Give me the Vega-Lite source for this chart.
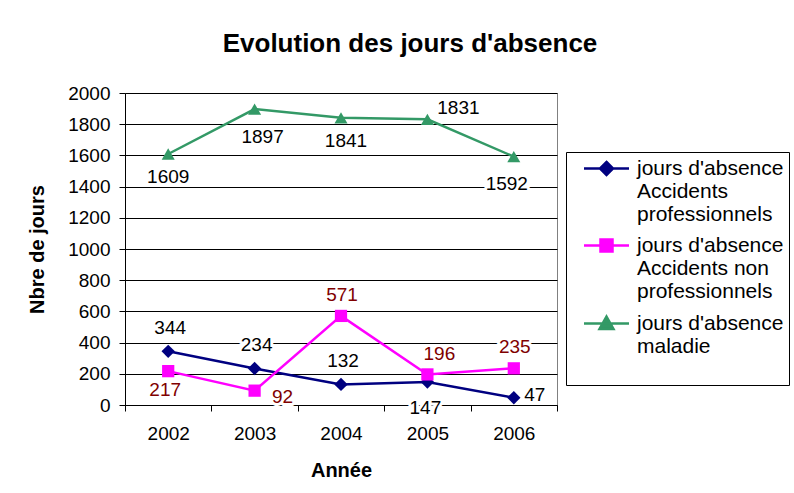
{
  "$schema": "https://vega.github.io/schema/vega-lite/v6.json",
  "autosize": "none",
  "width": 432,
  "height": 312,
  "padding": {"left": 125, "top": 93, "right": 237, "bottom": 88},
  "background": "white",
  "title": {
    "text": "Evolution des jours d'absence",
    "font": "Liberation Sans",
    "fontSize": 26,
    "fontWeight": "bold",
    "color": "black",
    "anchor": "middle",
    "frame": "group",
    "dx": 69,
    "offset": 27
  },
  "data": {
    "values": [
      {"annee": "2002", "serie": "jours d'absence Accidents professionnels", "jours": 344},
      {"annee": "2003", "serie": "jours d'absence Accidents professionnels", "jours": 234},
      {"annee": "2004", "serie": "jours d'absence Accidents professionnels", "jours": 132},
      {"annee": "2005", "serie": "jours d'absence Accidents professionnels", "jours": 147},
      {"annee": "2006", "serie": "jours d'absence Accidents professionnels", "jours": 47},
      {"annee": "2002", "serie": "jours d'absence Accidents non professionnels", "jours": 217},
      {"annee": "2003", "serie": "jours d'absence Accidents non professionnels", "jours": 92},
      {"annee": "2004", "serie": "jours d'absence Accidents non professionnels", "jours": 571},
      {"annee": "2005", "serie": "jours d'absence Accidents non professionnels", "jours": 196},
      {"annee": "2006", "serie": "jours d'absence Accidents non professionnels", "jours": 235},
      {"annee": "2002", "serie": "jours d'absence maladie", "jours": 1609},
      {"annee": "2003", "serie": "jours d'absence maladie", "jours": 1897},
      {"annee": "2004", "serie": "jours d'absence maladie", "jours": 1841},
      {"annee": "2005", "serie": "jours d'absence maladie", "jours": 1831},
      {"annee": "2006", "serie": "jours d'absence maladie", "jours": 1592}
    ]
  },
  "encoding": {
    "x": {
      "field": "annee",
      "type": "nominal",
      "scale": {"type": "band", "paddingInner": 0, "paddingOuter": 0},
      "axis": {
        "title": "Année",
        "labelAngle": 0,
        "tickBand": "extent",
        "tickSize": 6,
        "labelPadding": 13,
        "titlePadding": 17,
        "grid": false
      }
    },
    "y": {
      "field": "jours",
      "type": "quantitative",
      "scale": {"domain": [0, 2000], "nice": false},
      "axis": {
        "title": "Nbre de jours",
        "format": "d",
        "values": [0, 200, 400, 600, 800, 1000, 1200, 1400, 1600, 1800, 2000],
        "tickSize": 6,
        "labelPadding": 9,
        "titlePadding": 20,
        "grid": true
      }
    },
    "text": {"field": "jours", "type": "quantitative"}
  },
  "layer": [
    {
      "transform": [{"filter": {"and": [{"field": "serie", "equal": "jours d'absence Accidents professionnels"}, {"field": "annee", "oneOf": ["2002", "2003", "2004"]}]}}],
      "mark": {"type": "text", "font": "Liberation Sans", "fontSize": 19, "fill": "white", "stroke": "white", "strokeWidth": 6, "strokeJoin": "round", "dx": 2, "dy": -23}
    },
    {
      "transform": [{"filter": {"and": [{"field": "serie", "equal": "jours d'absence Accidents professionnels"}, {"field": "annee", "equal": "2005"}]}}],
      "mark": {"type": "text", "font": "Liberation Sans", "fontSize": 19, "fill": "white", "stroke": "white", "strokeWidth": 6, "strokeJoin": "round", "dx": -2, "dy": 26}
    },
    {
      "transform": [{"filter": {"and": [{"field": "serie", "equal": "jours d'absence Accidents professionnels"}, {"field": "annee", "equal": "2006"}]}}],
      "mark": {"type": "text", "font": "Liberation Sans", "fontSize": 19, "fill": "white", "stroke": "white", "strokeWidth": 6, "strokeJoin": "round", "dx": 21, "dy": -3}
    },
    {
      "transform": [{"filter": {"and": [{"field": "serie", "equal": "jours d'absence Accidents non professionnels"}, {"field": "annee", "equal": "2002"}]}}],
      "mark": {"type": "text", "font": "Liberation Sans", "fontSize": 19, "fill": "white", "stroke": "white", "strokeWidth": 6, "strokeJoin": "round", "dx": -3, "dy": 19}
    },
    {
      "transform": [{"filter": {"and": [{"field": "serie", "equal": "jours d'absence Accidents non professionnels"}, {"field": "annee", "equal": "2003"}]}}],
      "mark": {"type": "text", "font": "Liberation Sans", "fontSize": 19, "fill": "white", "stroke": "white", "strokeWidth": 6, "strokeJoin": "round", "dx": 28, "dy": 6}
    },
    {
      "transform": [{"filter": {"and": [{"field": "serie", "equal": "jours d'absence Accidents non professionnels"}, {"field": "annee", "oneOf": ["2004", "2006"]}]}}],
      "mark": {"type": "text", "font": "Liberation Sans", "fontSize": 19, "fill": "white", "stroke": "white", "strokeWidth": 6, "strokeJoin": "round", "dx": 1, "dy": -21}
    },
    {
      "transform": [{"filter": {"and": [{"field": "serie", "equal": "jours d'absence Accidents non professionnels"}, {"field": "annee", "equal": "2005"}]}}],
      "mark": {"type": "text", "font": "Liberation Sans", "fontSize": 19, "fill": "white", "stroke": "white", "strokeWidth": 6, "strokeJoin": "round", "dx": 12, "dy": -20}
    },
    {
      "transform": [{"filter": {"and": [{"field": "serie", "equal": "jours d'absence maladie"}, {"field": "annee", "equal": "2002"}]}}],
      "mark": {"type": "text", "font": "Liberation Sans", "fontSize": 19, "fill": "white", "stroke": "white", "strokeWidth": 6, "strokeJoin": "round", "dx": 0, "dy": 23}
    },
    {
      "transform": [{"filter": {"and": [{"field": "serie", "equal": "jours d'absence maladie"}, {"field": "annee", "equal": "2003"}]}}],
      "mark": {"type": "text", "font": "Liberation Sans", "fontSize": 19, "fill": "white", "stroke": "white", "strokeWidth": 6, "strokeJoin": "round", "dx": 8, "dy": 28}
    },
    {
      "transform": [{"filter": {"and": [{"field": "serie", "equal": "jours d'absence maladie"}, {"field": "annee", "equal": "2004"}]}}],
      "mark": {"type": "text", "font": "Liberation Sans", "fontSize": 19, "fill": "white", "stroke": "white", "strokeWidth": 6, "strokeJoin": "round", "dx": 5, "dy": 23}
    },
    {
      "transform": [{"filter": {"and": [{"field": "serie", "equal": "jours d'absence maladie"}, {"field": "annee", "equal": "2005"}]}}],
      "mark": {"type": "text", "font": "Liberation Sans", "fontSize": 19, "fill": "white", "stroke": "white", "strokeWidth": 6, "strokeJoin": "round", "dx": 31, "dy": -11}
    },
    {
      "transform": [{"filter": {"and": [{"field": "serie", "equal": "jours d'absence maladie"}, {"field": "annee", "equal": "2006"}]}}],
      "mark": {"type": "text", "font": "Liberation Sans", "fontSize": 19, "fill": "white", "stroke": "white", "strokeWidth": 6, "strokeJoin": "round", "dx": -7, "dy": 27}
    },
    {
      "mark": {"type": "line", "strokeWidth": 2.5},
      "encoding": {
        "text": null,
        "color": {
          "field": "serie",
          "type": "nominal",
          "scale": {
            "domain": ["jours d'absence Accidents professionnels", "jours d'absence Accidents non professionnels", "jours d'absence maladie"],
            "range": ["#000080", "#FF00FF", "#339966"]
          },
          "legend": {
            "orient": "none",
            "legendX": 441,
            "legendY": 59,
            "title": null,
            "strokeColor": "#000000",
            "fillColor": "white",
            "padding": 5,
            "symbolSize": 400,
            "symbolStrokeWidth": 2.5,
            "labelFont": "Liberation Sans",
            "labelFontSize": 21,
            "labelColor": "black",
            "labelLimit": 300,
            "labelOffset": 43,
            "rowPadding": 9,
            "labelExpr": "indexof(datum.label, 'non') >= 0 ? [\"jours d'absence\", 'Accidents non', 'professionnels'] : indexof(datum.label, 'maladie') >= 0 ? [\"jours d'absence\", 'maladie', ''] : [\"jours d'absence\", 'Accidents', 'professionnels']",
            "encode": {
              "symbols": {
                "update": {
                  "shape": {"signal": "indexof(datum.value, 'maladie') >= 0 ? 'M0.15,0H4.65M2.4,-0.7L3.1,0.55H1.7Z' : indexof(datum.value, 'non') >= 0 ? 'M0.15,0H4.65M1.8,-0.6H3V0.6H1.8Z' : 'M0.15,0H4.65M2.4,-0.65L3.05,0L2.4,0.65L1.75,0Z'"},
                  "fill": {"signal": "scale('color', datum.value)"},
                  "stroke": {"signal": "scale('color', datum.value)"},
                  "strokeWidth": {"value": 2.5},
                  "size": {"value": 400},
                  "opacity": {"value": 1}
                }
              },
              "labels": {
                "update": {
                  "lineHeight": {"value": 23}
                }
              }
            }
          }
        }
      }
    },
    {
      "transform": [{"filter": {"field": "serie", "equal": "jours d'absence Accidents professionnels"}}],
      "mark": {"type": "point", "filled": true, "opacity": 1, "size": 180, "shape": "diamond", "color": "#000080"},
      "encoding": {"text": null}
    },
    {
      "transform": [{"filter": {"field": "serie", "equal": "jours d'absence Accidents non professionnels"}}],
      "mark": {"type": "point", "filled": true, "opacity": 1, "size": 150, "shape": "square", "color": "#FF00FF"},
      "encoding": {"text": null}
    },
    {
      "transform": [{"filter": {"field": "serie", "equal": "jours d'absence maladie"}}],
      "mark": {"type": "point", "filled": true, "opacity": 1, "size": 170, "shape": "triangle-up", "color": "#339966"},
      "encoding": {"text": null}
    },
    {
      "transform": [{"filter": {"and": [{"field": "serie", "equal": "jours d'absence Accidents professionnels"}, {"field": "annee", "oneOf": ["2002", "2003", "2004"]}]}}],
      "mark": {"type": "text", "font": "Liberation Sans", "fontSize": 19, "color": "black", "dx": 2, "dy": -23}
    },
    {
      "transform": [{"filter": {"and": [{"field": "serie", "equal": "jours d'absence Accidents professionnels"}, {"field": "annee", "equal": "2005"}]}}],
      "mark": {"type": "text", "font": "Liberation Sans", "fontSize": 19, "color": "black", "dx": -2, "dy": 26}
    },
    {
      "transform": [{"filter": {"and": [{"field": "serie", "equal": "jours d'absence Accidents professionnels"}, {"field": "annee", "equal": "2006"}]}}],
      "mark": {"type": "text", "font": "Liberation Sans", "fontSize": 19, "color": "black", "dx": 21, "dy": -3}
    },
    {
      "transform": [{"filter": {"and": [{"field": "serie", "equal": "jours d'absence Accidents non professionnels"}, {"field": "annee", "equal": "2002"}]}}],
      "mark": {"type": "text", "font": "Liberation Sans", "fontSize": 19, "color": "#800000", "dx": -3, "dy": 19}
    },
    {
      "transform": [{"filter": {"and": [{"field": "serie", "equal": "jours d'absence Accidents non professionnels"}, {"field": "annee", "equal": "2003"}]}}],
      "mark": {"type": "text", "font": "Liberation Sans", "fontSize": 19, "color": "#800000", "dx": 28, "dy": 6}
    },
    {
      "transform": [{"filter": {"and": [{"field": "serie", "equal": "jours d'absence Accidents non professionnels"}, {"field": "annee", "oneOf": ["2004", "2006"]}]}}],
      "mark": {"type": "text", "font": "Liberation Sans", "fontSize": 19, "color": "#800000", "dx": 1, "dy": -21}
    },
    {
      "transform": [{"filter": {"and": [{"field": "serie", "equal": "jours d'absence Accidents non professionnels"}, {"field": "annee", "equal": "2005"}]}}],
      "mark": {"type": "text", "font": "Liberation Sans", "fontSize": 19, "color": "#800000", "dx": 12, "dy": -20}
    },
    {
      "transform": [{"filter": {"and": [{"field": "serie", "equal": "jours d'absence maladie"}, {"field": "annee", "equal": "2002"}]}}],
      "mark": {"type": "text", "font": "Liberation Sans", "fontSize": 19, "color": "black", "dx": 0, "dy": 23}
    },
    {
      "transform": [{"filter": {"and": [{"field": "serie", "equal": "jours d'absence maladie"}, {"field": "annee", "equal": "2003"}]}}],
      "mark": {"type": "text", "font": "Liberation Sans", "fontSize": 19, "color": "black", "dx": 8, "dy": 28}
    },
    {
      "transform": [{"filter": {"and": [{"field": "serie", "equal": "jours d'absence maladie"}, {"field": "annee", "equal": "2004"}]}}],
      "mark": {"type": "text", "font": "Liberation Sans", "fontSize": 19, "color": "black", "dx": 5, "dy": 23}
    },
    {
      "transform": [{"filter": {"and": [{"field": "serie", "equal": "jours d'absence maladie"}, {"field": "annee", "equal": "2005"}]}}],
      "mark": {"type": "text", "font": "Liberation Sans", "fontSize": 19, "color": "black", "dx": 31, "dy": -11}
    },
    {
      "transform": [{"filter": {"and": [{"field": "serie", "equal": "jours d'absence maladie"}, {"field": "annee", "equal": "2006"}]}}],
      "mark": {"type": "text", "font": "Liberation Sans", "fontSize": 19, "color": "black", "dx": -7, "dy": 27}
    }
  ],
  "config": {
    "view": {"stroke": "#808080", "strokeWidth": 1},
    "axis": {
      "labelFont": "Liberation Sans",
      "labelFontSize": 19,
      "labelColor": "black",
      "titleFont": "Liberation Sans",
      "titleFontSize": 20,
      "titleFontWeight": "bold",
      "titleColor": "black",
      "domainColor": "black",
      "tickColor": "black",
      "gridColor": "#000000",
      "gridOpacity": 1
    }
  }
}
